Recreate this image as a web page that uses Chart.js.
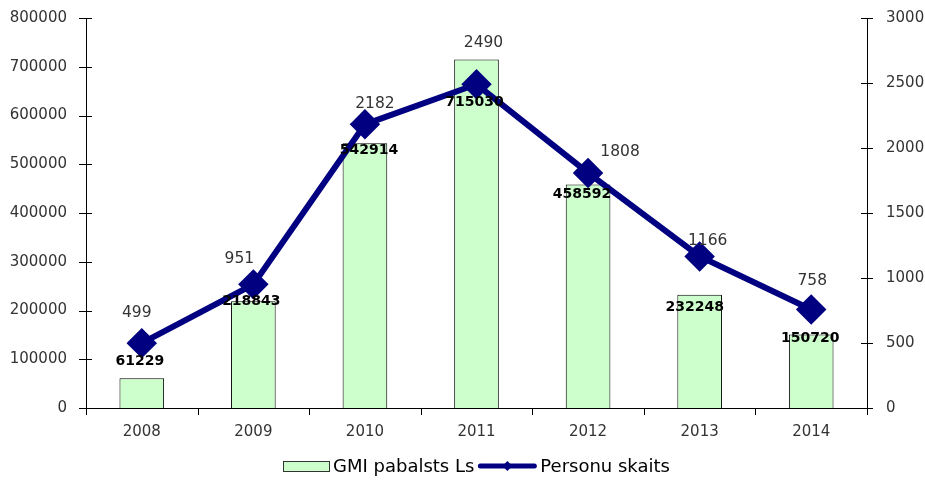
<!DOCTYPE html>
<html>
<head>
<meta charset="utf-8">
<script src="https://cdn.jsdelivr.net/npm/chart.js@4.4.0/dist/chart.umd.min.js"></script>
<style>
  html, body { margin: 0; padding: 0; background: #fff; }
  #wrap { width: 925px; height: 491px; }
</style>
</head>
<body>
<div id="wrap"><canvas id="chart"></canvas></div>
<script>
// data
const years = ["2008", "2009", "2010", "2011", "2012", "2013", "2014"];
const gmiAmounts = [61229, 218843, 542914, 715030, 458592, 232248, 150720];
const personCounts = [499, 951, 2182, 2490, 1808, 1166, 758];
const leftTicks = [0, 100000, 200000, 300000, 400000, 500000, 600000, 700000, 800000];
const rightTicks = [0, 500, 1000, 1500, 2000, 2500, 3000];

// hand placed label offsets (like in the original spreadsheet)
const barLabelNudge = [[-2, -17], [-2, 0], [4, 7], [-2, 43], [-6, 10], [-5, 13], [-1, 4]];
const lineLabelNudge = [[-5, -30], [-14, -25], [10, -20], [7, -41], [32, -21], [8, -15], [1, -28]];

const FONT = "'DejaVu Sans', Verdana, sans-serif";
const NAVY = "#000080";

const tickMarks = {
  id: "tickMarks",
  afterDraw(chart) {
    const ctx = chart.ctx;
    const x = chart.scales.x, yl = chart.scales.y, yr = chart.scales.y1;
    ctx.save();
    ctx.strokeStyle = "#000";
    ctx.lineWidth = 1;
    ctx.beginPath();
    yl.ticks.forEach(t => {
      const py = Math.round(yl.getPixelForValue(t.value)) + 0.5;
      ctx.moveTo(yl.right - 7, py); ctx.lineTo(yl.right + 6, py);
    });
    yr.ticks.forEach(t => {
      const py = Math.round(yr.getPixelForValue(t.value)) + 0.5;
      ctx.moveTo(yr.left - 6, py); ctx.lineTo(yr.left + 6, py);
    });
    for (let i = 0; i <= years.length; i++) {
      let px;
      if (i === 0) px = chart.chartArea.left;
      else if (i === years.length) px = chart.chartArea.right;
      else px = (x.getPixelForValue(i - 1) + x.getPixelForValue(i)) / 2;
      px = Math.round(px) + 0.5;
      ctx.moveTo(px, x.top); ctx.lineTo(px, x.top + 7);
    }
    ctx.stroke();
    ctx.restore();
  }
};

const valueLabels = {
  id: "valueLabels",
  afterDatasetsDraw(chart) {
    const ctx = chart.ctx;
    ctx.save();
    ctx.textAlign = "center";
    ctx.textBaseline = "middle";
    const bars = chart.getDatasetMeta(0).data;
    ctx.font = "bold 14px " + FONT;
    ctx.fillStyle = "#000";
    bars.forEach((b, i) => {
      ctx.fillText(gmiAmounts[i], b.x + barLabelNudge[i][0], b.y + barLabelNudge[i][1]);
    });
    const pts = chart.getDatasetMeta(1).data;
    ctx.font = "15.5px " + FONT;
    ctx.fillStyle = "#333";
    pts.forEach((p, i) => {
      ctx.fillText(personCounts[i], p.x + lineLabelNudge[i][0], p.y + lineLabelNudge[i][1]);
    });
    ctx.restore();
  }
};

const bottomLegend = {
  id: "bottomLegend",
  afterDraw(chart) {
    const ctx = chart.ctx;
    const ds = chart.data.datasets;
    ctx.save();
    ctx.font = "18px " + FONT;
    ctx.textBaseline = "middle";
    const boxW = 46, lineW = 58, gap = 4;
    const t1 = ctx.measureText(ds[0].label).width;
    const t2 = ctx.measureText(ds[1].label).width;
    const total = boxW + gap + t1 + gap + lineW + gap + t2;
    const cx = (chart.chartArea.left + chart.chartArea.right) / 2;
    let x = Math.round(cx - total / 2);
    const y = 466;
    ctx.fillStyle = ds[0].backgroundColor;
    ctx.fillRect(x, y - 5, boxW, 10);
    ctx.strokeStyle = "#333";
    ctx.lineWidth = 1;
    ctx.strokeRect(x + 0.5, y - 4.5, boxW, 10);
    x += boxW + gap;
    ctx.fillStyle = "#000";
    ctx.fillText(ds[0].label, x, y + 1);
    x += t1 + gap;
    ctx.strokeStyle = NAVY;
    ctx.lineWidth = 5;
    ctx.lineCap = "round";
    ctx.beginPath();
    ctx.moveTo(x + 2, y); ctx.lineTo(x + lineW - 2, y);
    ctx.stroke();
    ctx.fillStyle = NAVY;
    const mx = x + lineW / 2;
    ctx.beginPath();
    ctx.moveTo(mx, y - 5); ctx.lineTo(mx + 5, y); ctx.lineTo(mx, y + 5); ctx.lineTo(mx - 5, y);
    ctx.closePath(); ctx.fill();
    x += lineW + gap;
    ctx.fillStyle = "#000";
    ctx.fillText(ds[1].label, x, y + 1);
    ctx.restore();
  }
};

new Chart(document.getElementById("chart"), {
  type: "bar",
  data: {
    labels: years,
    datasets: [
      {
        type: "bar",
        label: "GMI pabalsts Ls",
        data: gmiAmounts,
        backgroundColor: "#CCFFCC",
        borderColor: "#000",
        borderWidth: 1,
        barPercentage: 0.4,
        categoryPercentage: 1,
        yAxisID: "y",
        order: 2
      },
      {
        type: "line",
        label: "Personu skaits",
        data: personCounts,
        borderColor: NAVY,
        backgroundColor: NAVY,
        borderWidth: 6,
        pointStyle: "rectRot",
        pointRadius: 11,
        pointHoverRadius: 11,
        pointBackgroundColor: NAVY,
        pointBorderColor: NAVY,
        tension: 0,
        yAxisID: "y1",
        order: 1
      }
    ]
  },
  options: {
    responsive: true,
    maintainAspectRatio: false,
    animation: false,
    layout: { padding: { top: 18, left: 0, right: 0, bottom: 0 } },
    plugins: {
      legend: { display: false },
      tooltip: { enabled: false }
    },
    scales: {
      x: {
        offset: true,
        grid: { display: false, drawTicks: false },
        border: { display: true, color: "#000", width: 1 },
        ticks: { color: "#333", font: { family: FONT, size: 15 }, padding: 15 },
        afterFit(scale) { scale.height = 83; }
      },
      y: {
        position: "left",
        min: 0, max: 800000,
        grid: { display: false, drawTicks: false },
        border: { display: true, color: "#000", width: 1 },
        afterBuildTicks(scale) { scale.ticks = leftTicks.map(v => ({ value: v })); },
        ticks: { color: "#333", font: { family: FONT, size: 15 }, padding: 19, callback: v => String(v) },
        afterFit(scale) { scale.width = 86; scale.paddingTop = 0; scale.paddingBottom = 0; }
      },
      y1: {
        position: "right",
        min: 0, max: 3000,
        grid: { display: false, drawTicks: false },
        border: { display: true, color: "#000", width: 1 },
        afterBuildTicks(scale) { scale.ticks = rightTicks.map(v => ({ value: v })); },
        ticks: { color: "#333", font: { family: FONT, size: 15 }, padding: 19, callback: v => String(v) },
        afterFit(scale) { scale.width = 58; scale.paddingTop = 0; scale.paddingBottom = 0; }
      }
    }
  },
  plugins: [tickMarks, valueLabels, bottomLegend]
});
</script>
</body>
</html>
